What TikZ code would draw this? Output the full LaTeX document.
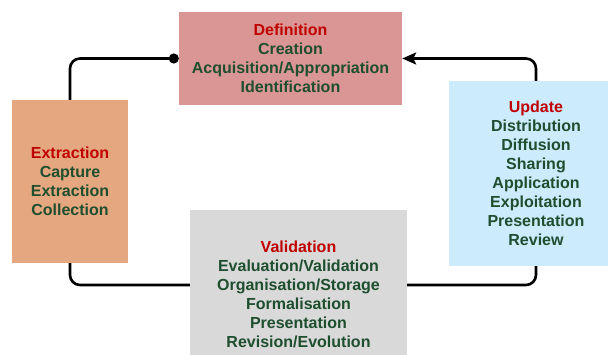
\documentclass[tikz,border=0pt]{standalone}
\usepackage{fontspec}
\setmainfont{Liberation Sans}
\usetikzlibrary{arrows.meta}
\definecolor{defred}{HTML}{C00000}
\definecolor{txtgreen}{HTML}{1F4E2F}
\definecolor{deffill}{HTML}{DA9694}
\definecolor{extfill}{HTML}{E5A77F}
\definecolor{updfill}{HTML}{CCEBFD}
\definecolor{valfill}{HTML}{D9D9D9}
\tikzset{
	phase/.style={rectangle, inner sep=0pt, align=center, text=txtgreen,
		font=\bfseries\fontsize{16}{19}\selectfont},
	link/.style={line width=2.6pt, rounded corners=10pt}
}
\newcommand{\phasetitle}[1]{\textcolor{defred}{#1}}

\begin{document}
\begin{tikzpicture}[x=1pt, y=1pt]
			%%%%% START %%%%%
			
			\useasboundingbox (0, 0) rectangle (608, 354);
			\clip (0, 0) rectangle (608, 354);
			
			\node[phase, fill=deffill, minimum width=223, minimum height=93] (definition) at (290.5, 295.5)
				{\phasetitle{Definition}\\Creation\\Acquisition/Appropriation\\Identification};
			
			\node[phase, fill=extfill, minimum width=116, minimum height=163] (extraction) at (70, 172.5)
				{\phasetitle{Extraction}\\Capture\\Extraction\\Collection};
			
			\node[phase, fill=updfill, minimum width=174, minimum height=185] (update) at (536, 180.5)
				{\phasetitle{Update}\\Distribution\\Diffusion\\Sharing\\Application\\Exploitation\\Presentation\\Review};
			
			\node[phase, fill=valfill, minimum width=217, minimum height=169] (validation) at (298.5, 59.5)
				{\phasetitle{Validation}\\Evaluation/Validation\\Organisation/Storage\\Formalisation\\Presentation\\Revision/Evolution};
			
			\coordinate (low) at (0, 69);
			
			\draw[link, -{Circle[length=10pt]}] (extraction.north) |- (definition.west);
			\draw[link, -{Stealth[length=14pt, width=12pt, inset=3pt]}] (update.north) |- (definition.east);
			\draw[link] (extraction.south) |- (low -| validation.west);
			\draw[link] (validation.east |- low) -| (update.south);
			
			%%%%% END %%%%%
\end{tikzpicture}
\end{document}
